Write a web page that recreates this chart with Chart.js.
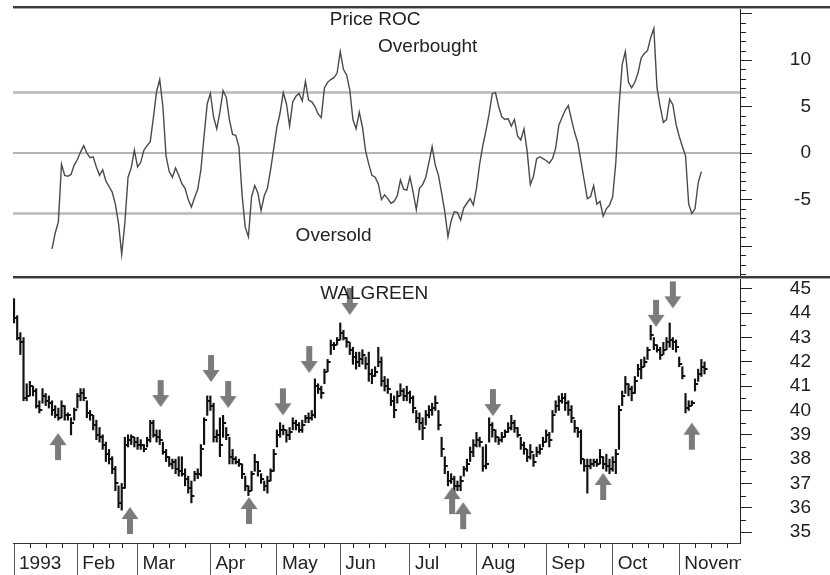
<!DOCTYPE html>
<html>
<head>
<meta charset="utf-8">
<script src="https://cdn.jsdelivr.net/npm/chart.js@4/dist/chart.umd.min.js"></script>
<style>
  html, body { margin: 0; padding: 0; background: #fff; }
  #wrap { width: 830px; height: 575px; position: relative; }
</style>
</head>
<body>
<div id="wrap"><canvas id="rocChart"></canvas></div>
<script>
// day = trading-day index, 0 = Jan 4 1993
var monthStarts = [0, 20, 39, 62, 83, 103, 125, 146, 168, 189, 210];
var monthLabels = ["1993", "Feb", "Mar", "Apr", "May", "Jun", "Jul", "Aug", "Sep", "Oct", "November"];
var weekStarts = [5, 10, 15, 25, 30, 34, 44, 49, 54, 68, 73, 78, 88, 93, 98, 107, 112, 117, 131, 136, 141,
                  151, 156, 161, 175, 180, 185, 195, 200, 205, 215, 220, 225];

var rocTickValues = [-10, -5, 0, 5, 10, 15];
var rocTickLabels = ["", "-5", "0", "5", "10", ""];
var rocMinorTicks = [-13, -12, -11, -9, -8, -7, -6, -4, -3, -2, -1, 1, 2, 3, 4, 6, 7, 8, 9, 11, 12, 13, 14];
var priceTickValues = [35, 36, 37, 38, 39, 40, 41, 42, 43, 44, 45];
var priceMinorTicks = [35.5, 36.5, 37.5, 38.5, 39.5, 40.5, 41.5, 42.5, 43.5, 44.5];

// overbought / zero / oversold
var levelValues = [6.5, 0, -6.5];

// 12-day price rate of change, one value per day starting at day 12
var rocStartDay = 12;
var rocValues = [
  -10.3, -8.6, -7.4, -1.2, -2.4, -2.5, -2.3, -1.3, -0.7, 0.1,
  0.8, 0.0, -0.5, -0.4, -1.5, -2.4, -1.8, -3.0, -3.6, -4.2,
  -5.5, -7.6, -10.9, -7.5, -2.6, -1.6, 0.3, -1.5, -1.0, 0.3,
  0.8, 1.2, 3.8, 6.6, 7.9, 5.0, -0.3, -2.0, -2.6, -1.6,
  -2.4, -3.3, -3.8, -5.0, -5.8, -4.8, -3.9, -1.8, 1.8, 5.3,
  6.4, 3.9, 2.6, 4.4, 6.7, 6.0, 3.6, 2.0, 1.9, 0.7,
  -4.5, -8.0, -9.0, -4.7, -3.5, -4.3, -6.2, -4.6, -3.8, -1.8,
  0.5, 2.8, 4.3, 6.5, 5.3, 2.9, 5.5, 6.1, 6.4, 5.6,
  7.7, 5.7, 5.5, 5.0, 4.2, 3.8, 7.0, 7.6, 7.9, 8.1,
  8.6, 10.9, 9.0, 8.4, 6.8, 3.6, 2.6, 4.4, 2.8, 0.2,
  -1.2, -2.4, -2.6, -3.3, -5.0, -4.5, -4.9, -5.4, -5.2, -4.6,
  -2.9, -3.9, -4.0, -2.6, -4.2, -6.1, -3.8, -3.4, -2.6, -1.0,
  0.7, -1.3, -2.4, -4.3, -6.3, -9.0, -7.3, -6.3, -6.4, -7.2,
  -5.9, -5.4, -4.9, -5.6, -3.8, -1.2, 0.8, 2.4, 4.2, 6.4,
  6.5, 5.0, 3.9, 3.6, 3.7, 2.9, 3.6, 1.8, 1.4, 2.6,
  0.2, -3.4, -2.5, -0.6, -0.4, -0.6, -0.8, -1.1, -0.6, 0.5,
  3.0, 3.8, 4.6, 5.1, 3.6, 2.2, 1.1, -0.9, -2.9, -4.9,
  -4.7, -3.5, -5.5, -5.2, -6.8, -6.0, -5.6, -4.7, -1.0, 5.0,
  9.5, 10.9, 7.6, 7.0, 7.6, 8.6, 10.2, 10.7, 11.0, 12.4,
  13.4, 7.0, 5.0, 3.3, 3.6, 5.8, 5.2, 3.1, 1.8, 0.7,
  -0.3, -5.5, -6.5, -6.0, -3.2, -2.0
];

// Walgreen daily bars, day 0 .. 218
var priceHigh = [
  44.6, 43.9, 43.2, 43.0, 41.1, 41.2, 41.0, 40.9, 40.4, 40.9,
  40.7, 40.6, 40.4, 40.2, 40.1, 40.4, 40.2, 39.9, 39.7, 40.1,
  40.7, 40.9, 40.9, 40.4, 40.0, 39.8, 39.6, 39.3, 39.0, 38.7,
  38.4, 38.1, 37.7, 36.9, 37.0, 38.9, 39.0, 39.0, 38.9, 38.9,
  38.8, 38.6, 38.9, 39.6, 39.6, 39.2, 39.2, 38.7, 38.4, 38.1,
  38.0, 38.0, 38.1, 38.1, 37.6, 37.3, 37.1, 37.5, 37.6, 38.6,
  39.7, 40.6, 40.6, 40.3, 39.2, 39.7, 39.8, 39.3, 38.9, 38.4,
  38.1, 38.0, 37.8, 37.3, 36.9, 37.5, 38.2, 37.9, 37.4, 37.1,
  37.3, 37.6, 38.4, 39.2, 39.5, 39.4, 39.2, 39.3, 39.7, 39.6,
  39.5, 39.6, 39.8, 39.9, 40.0, 41.3, 41.1, 41.0, 41.7, 42.1,
  42.9, 42.8, 43.0, 43.6, 43.3, 43.0, 42.8, 42.6, 42.4, 42.4,
  42.5, 42.2, 42.4, 41.7, 41.8, 42.6, 42.2, 41.4, 41.3, 40.7,
  40.6, 40.8, 41.1, 40.9, 41.0, 40.8, 40.6, 40.0, 39.9, 39.7,
  40.0, 40.2, 40.3, 40.6, 40.0, 38.9, 38.1, 37.5, 37.4, 37.3,
  37.1, 37.3, 37.7, 38.0, 38.5, 38.8, 39.1, 38.9, 38.5, 38.6,
  39.7, 39.5, 39.2, 38.9, 39.1, 39.2, 39.5, 39.8, 39.6, 39.3,
  38.9, 38.7, 38.4, 38.6, 38.2, 38.5, 38.6, 38.9, 39.2, 39.1,
  40.0, 40.4, 40.6, 40.7, 40.7, 40.4, 40.2, 39.6, 39.3, 39.2,
  38.0, 38.0, 38.0, 38.0, 38.0, 38.4, 38.1, 38.2, 38.0, 38.1,
  38.4, 40.2, 40.8, 41.4, 41.1, 41.0, 41.4, 41.9, 42.1, 42.2,
  42.6, 43.5, 43.0, 42.7, 42.6, 42.8, 43.0, 43.6, 43.0, 42.9,
  42.2, 41.8, 40.7, 40.4, 40.4, 41.3, 41.7, 42.1, 42.0
];
var priceLow = [
  43.6, 42.9, 42.3, 40.4, 40.4, 40.6, 40.6, 40.1, 39.9, 40.3,
  40.2, 40.1, 39.8, 39.7, 39.6, 39.7, 39.6, 39.6, 39.0, 39.6,
  40.1, 40.4, 40.4, 39.7, 39.6, 39.2, 38.8, 38.7, 38.4, 37.9,
  37.8, 37.4, 36.7, 36.0, 35.9, 36.8, 38.5, 38.6, 38.5, 38.4,
  38.4, 38.3, 38.5, 38.7, 38.9, 38.7, 38.6, 38.2, 37.9, 37.7,
  37.6, 37.4, 37.3, 37.3, 36.9, 36.6, 36.2, 37.1, 37.2, 37.3,
  38.6, 39.8, 40.0, 38.7, 38.7, 38.1, 38.9, 38.8, 37.8, 37.8,
  37.8, 37.7, 37.2, 36.7, 36.5, 36.7, 37.5, 37.3, 37.0, 36.7,
  36.6, 37.1, 37.5, 38.5, 38.9, 39.0, 38.7, 38.8, 39.2, 39.2,
  39.1, 39.1, 39.5, 39.5, 39.6, 39.7, 40.7, 40.5, 41.1, 41.6,
  42.3, 42.5, 42.7, 42.9, 42.9, 42.6, 42.3, 41.9, 41.7, 41.8,
  41.9, 41.7, 41.2, 41.1, 41.4, 41.8, 41.0, 40.8, 40.7, 40.2,
  39.7, 40.3, 40.6, 40.4, 40.4, 40.3, 39.9, 39.5, 39.2, 38.8,
  39.4, 39.7, 39.8, 40.0, 39.2, 38.1, 37.4, 36.9, 37.0, 36.6,
  36.7, 36.7, 37.3, 37.5, 37.9, 38.1, 38.5, 38.5, 37.5, 37.6,
  38.7, 38.9, 38.7, 38.6, 38.7, 38.9, 39.1, 39.2, 39.1, 38.9,
  38.4, 38.2, 37.9, 38.0, 37.7, 38.1, 38.2, 38.5, 38.7, 38.5,
  39.1, 39.9, 40.0, 40.3, 40.0, 39.8, 39.5, 39.1, 38.9, 37.8,
  37.5, 36.6, 37.6, 37.7, 37.7, 37.8, 37.6, 37.5, 37.4, 37.5,
  37.4, 38.4, 40.2, 40.7, 40.6, 40.4, 40.7, 41.4, 41.3, 41.8,
  42.1, 42.9, 42.5, 42.4, 42.1, 42.3, 42.5, 42.6, 42.5, 42.4,
  41.8, 41.3, 39.9, 40.0, 40.2, 40.8, 41.2, 41.4, 41.5
];
var priceClose = [
  43.8, 43.0, 42.8, 40.5, 40.6, 41.0, 40.8, 40.2, 40.0, 40.6,
  40.4, 40.3, 40.0, 39.8, 39.7, 40.2, 39.8, 39.8, 39.5, 40.0,
  40.6, 40.7, 40.5, 39.9, 39.8, 39.4, 39.0, 38.9, 38.6, 38.2,
  38.0, 37.6, 37.0, 36.2, 36.8, 38.6, 38.8, 38.9, 38.7, 38.6,
  38.6, 38.4, 38.8, 39.5, 39.0, 38.9, 38.8, 38.3, 38.1, 37.8,
  37.9, 37.6, 37.5, 37.4, 37.2, 36.8, 36.5, 37.4, 37.4, 38.4,
  39.6, 40.4, 40.2, 38.9, 39.0, 38.6, 39.5, 39.0, 38.1, 38.0,
  37.9, 37.8, 37.4, 36.9, 36.7, 37.4, 37.9, 37.5, 37.2, 36.9,
  37.1, 37.5, 38.2, 39.0, 39.2, 39.2, 39.0, 39.1, 39.5, 39.4,
  39.2, 39.4, 39.7, 39.7, 39.8, 41.0, 40.9, 40.7, 41.6, 42.0,
  42.7, 42.7, 42.9, 43.2, 43.0, 42.8, 42.5, 42.2, 42.0, 42.1,
  42.3, 41.9, 41.5, 41.4, 41.6, 42.0, 41.2, 41.0, 40.9, 40.4,
  40.0, 40.6, 40.8, 40.6, 40.7, 40.5, 40.1, 39.7, 39.5, 39.3,
  39.8, 40.0, 40.1, 40.3, 39.4, 38.4, 37.7, 37.1, 37.2, 36.9,
  36.9, 37.1, 37.6, 37.8, 38.3, 38.6, 38.8, 38.7, 37.7, 37.8,
  39.4, 39.2, 38.9, 38.8, 38.9, 39.1, 39.3, 39.5, 39.3, 39.0,
  38.6, 38.4, 38.1, 38.3, 37.9, 38.3, 38.4, 38.7, 39.0, 38.8,
  39.8, 40.2, 40.4, 40.5, 40.3, 40.0, 39.7, 39.3, 39.1, 38.0,
  37.7, 37.7, 37.8, 37.9, 37.8, 38.1, 37.8, 37.7, 37.6, 37.9,
  38.2, 40.0, 40.6, 41.1, 40.9, 40.7, 41.2, 41.7, 41.8, 42.0,
  42.5, 43.1, 42.7, 42.5, 42.3, 42.5, 42.8, 42.9, 42.8, 42.6,
  41.9, 41.4, 40.1, 40.2, 40.3, 41.1, 41.5, 41.8, 41.7
];

// signal arrows: day and price at the arrow tip
var upArrowDays = [13.9, 36.6, 74.2, 138.3, 141.8, 186, 214];
var upArrowPrices = [39.07, 36.03, 36.44, 36.85, 36.23, 37.43, 39.5];
var downArrowDays = [46.3, 62.2, 67.6, 84.9, 93.2, 106, 151.2, 202.7, 208];
var downArrowPrices = [40.14, 41.17, 40.1, 39.8, 41.54, 43.93, 39.77, 43.44, 44.2];

var notes = [
  { text: "Price ROC", day: 114, value: 14.35, axis: "roc" },
  { text: "Overbought", day: 130.6, value: 11.4, axis: "roc" },
  { text: "Oversold", day: 100.9, value: -8.85, axis: "roc" },
  { text: "WALGREEN", day: 113.7, value: 44.81, axis: "price" }
];

var dayMin = -0.32, dayMax = 229.2;

Chart.defaults.font.family = "'Liberation Sans', Arial, sans-serif";
Chart.defaults.font.size = 19;
Chart.defaults.color = "#222";

// point images: arrows have their tip at the image centre, close tick sits right of centre
function makeArrow(up) {
  var c = document.createElement("canvas");
  c.width = 18; c.height = 56;
  var g = c.getContext("2d");
  g.fillStyle = "#7b7b7b";
  g.beginPath();
  if (up) {
    g.moveTo(9, 28); g.lineTo(17.5, 40); g.lineTo(12, 40); g.lineTo(12, 55);
    g.lineTo(6, 55); g.lineTo(6, 40); g.lineTo(0.5, 40);
  } else {
    g.moveTo(9, 28); g.lineTo(17.5, 16); g.lineTo(12, 16); g.lineTo(12, 1);
    g.lineTo(6, 1); g.lineTo(6, 16); g.lineTo(0.5, 16);
  }
  g.closePath();
  g.fill();
  return c;
}
function makeTick() {
  var c = document.createElement("canvas");
  c.width = 8; c.height = 2;
  var g = c.getContext("2d");
  g.fillStyle = "#111";
  g.fillRect(4, 0, 3, 2);
  return c;
}

var datasets = [];
datasets.push({
  type: "line", yAxisID: "price", showLine: false,
  data: upArrowDays.map(function (d, i) { return { x: d, y: upArrowPrices[i] }; }),
  pointStyle: makeArrow(true), pointRadius: 1
});
datasets.push({
  type: "line", yAxisID: "price", showLine: false,
  data: downArrowDays.map(function (d, i) { return { x: d, y: downArrowPrices[i] }; }),
  pointStyle: makeArrow(false), pointRadius: 1
});
datasets.push({
  type: "line", yAxisID: "price", showLine: false,
  data: priceClose.map(function (c, i) { return { x: i, y: c }; }),
  pointStyle: makeTick(), pointRadius: 1
});
datasets.push({
  type: "bar", yAxisID: "price",
  data: priceHigh.map(function (h, i) { return { x: i, y: [priceLow[i], h] }; }),
  backgroundColor: "#111", barThickness: 1.5, borderWidth: 0
});
datasets.push({
  type: "line", yAxisID: "roc",
  data: rocValues.map(function (v, k) { return { x: rocStartDay + k, y: v }; }),
  borderColor: "#4a4a4a", borderWidth: 1.4, pointRadius: 0, tension: 0
});
levelValues.forEach(function (v) {
  datasets.push({
    type: "line", yAxisID: "roc",
    data: [{ x: dayMin, y: v }, { x: dayMax, y: v }],
    borderColor: v === 0 ? "#6a6a6a" : "#b8b8b8",
    borderWidth: v === 0 ? 1.2 : 2.5, pointRadius: 0
  });
});

// annotations, minor ticks, panel rules
var extras = {
  id: "extras",
  afterDatasetsDraw: function (chart) {
    var ctx = chart.ctx;
    ctx.save();
    ctx.font = "19px 'Liberation Sans', Arial, sans-serif";
    ctx.fillStyle = "#222";
    ctx.textAlign = "center";
    ctx.textBaseline = "middle";
    notes.forEach(function (n) {
      ctx.fillText(n.text, chart.scales.x.getPixelForValue(n.day), chart.scales[n.axis].getPixelForValue(n.value));
    });
    ctx.restore();
  },
  afterDraw: function (chart) {
    var ctx = chart.ctx, a = chart.chartArea;
    var x = chart.scales.x, roc = chart.scales.roc, price = chart.scales.price;
    ctx.save();
    // month name is cut at the plot edge
    ctx.fillStyle = "#fff";
    ctx.fillRect(a.right + 1, a.bottom + 1, chart.width - a.right, chart.height - a.bottom);

    ctx.strokeStyle = "#222";
    ctx.lineWidth = 1;
    ctx.beginPath();
    rocMinorTicks.forEach(function (v) {
      var y = Math.round(roc.getPixelForValue(v)) + 0.5;
      ctx.moveTo(a.right, y); ctx.lineTo(a.right + 6, y);
    });
    priceMinorTicks.forEach(function (v) {
      var y = Math.round(price.getPixelForValue(v)) + 0.5;
      ctx.moveTo(a.right, y); ctx.lineTo(a.right + 6, y);
    });
    weekStarts.forEach(function (d) {
      var px = Math.round(x.getPixelForValue(d)) + 0.5;
      if (px < a.right) { ctx.moveTo(px, a.bottom); ctx.lineTo(px, a.bottom + 5); }
    });
    ctx.stroke();

    // rules above and between the panels run to the right edge
    ctx.fillStyle = "#3a3a3a";
    ctx.fillRect(a.left, Math.round(roc.top) - 1, chart.width - a.left, 2);
    ctx.fillRect(a.left, Math.round(roc.bottom) - 1, chart.width - a.left, 2);
    ctx.fillStyle = "#a8a8a8";
    ctx.fillRect(a.left, Math.round(roc.top) + 1, chart.width - a.left, 1);
    ctx.fillRect(a.left, Math.round(roc.bottom) + 1, chart.width - a.left, 1);
    ctx.restore();
  }
};

function fixY(scale) {
  scale.width = 71;
  scale.paddingTop = 0;
  scale.paddingBottom = 0;
}

new Chart(document.getElementById("rocChart"), {
  type: "line",
  data: { datasets: datasets },
  options: {
    responsive: true,
    maintainAspectRatio: false,
    animation: false,
    events: [],
    layout: { padding: { left: 13, top: 7, right: 19, bottom: 0 } },
    plugins: { legend: { display: false }, tooltip: { enabled: false } },
    scales: {
      x: {
        type: "linear", min: dayMin, max: dayMax, offset: false,
        afterBuildTicks: function (s) { s.ticks = monthStarts.map(function (v) { return { value: v }; }); },
        afterFit: function (s) { s.height = 32; s.paddingLeft = 0; s.paddingRight = 0; },
        grid: { drawOnChartArea: false, tickLength: 32, tickColor: "#555", offset: false },
        border: { display: true, color: "#333", width: 1 },
        ticks: {
          autoSkip: false, maxRotation: 0, align: "start", labelOffset: 5, padding: -23,
          callback: function (v, i) { return monthLabels[i]; }
        }
      },
      roc: {
        type: "linear", position: "right", stack: "panels", stackWeight: 270,
        min: -13.33, max: 15.7,
        afterBuildTicks: function (s) { s.ticks = rocTickValues.map(function (v) { return { value: v }; }); },
        afterFit: fixY,
        grid: { drawOnChartArea: false, tickLength: 12, tickColor: "#222" },
        border: { display: true, color: "#222", width: 1 },
        ticks: {
          autoSkip: false, crossAlign: "far", padding: 38,
          callback: function (v, i) { return rocTickLabels[i]; }
        }
      },
      price: {
        type: "linear", position: "right", stack: "panels", stackWeight: 266,
        min: 34.55, max: 45.49,
        afterBuildTicks: function (s) { s.ticks = priceTickValues.map(function (v) { return { value: v }; }); },
        afterFit: fixY,
        grid: { drawOnChartArea: false, tickLength: 12, tickColor: "#222" },
        border: { display: true, color: "#222", width: 1 },
        ticks: { autoSkip: false, crossAlign: "far", padding: 38 }
      }
    }
  },
  plugins: [extras]
});
</script>
</body>
</html>
